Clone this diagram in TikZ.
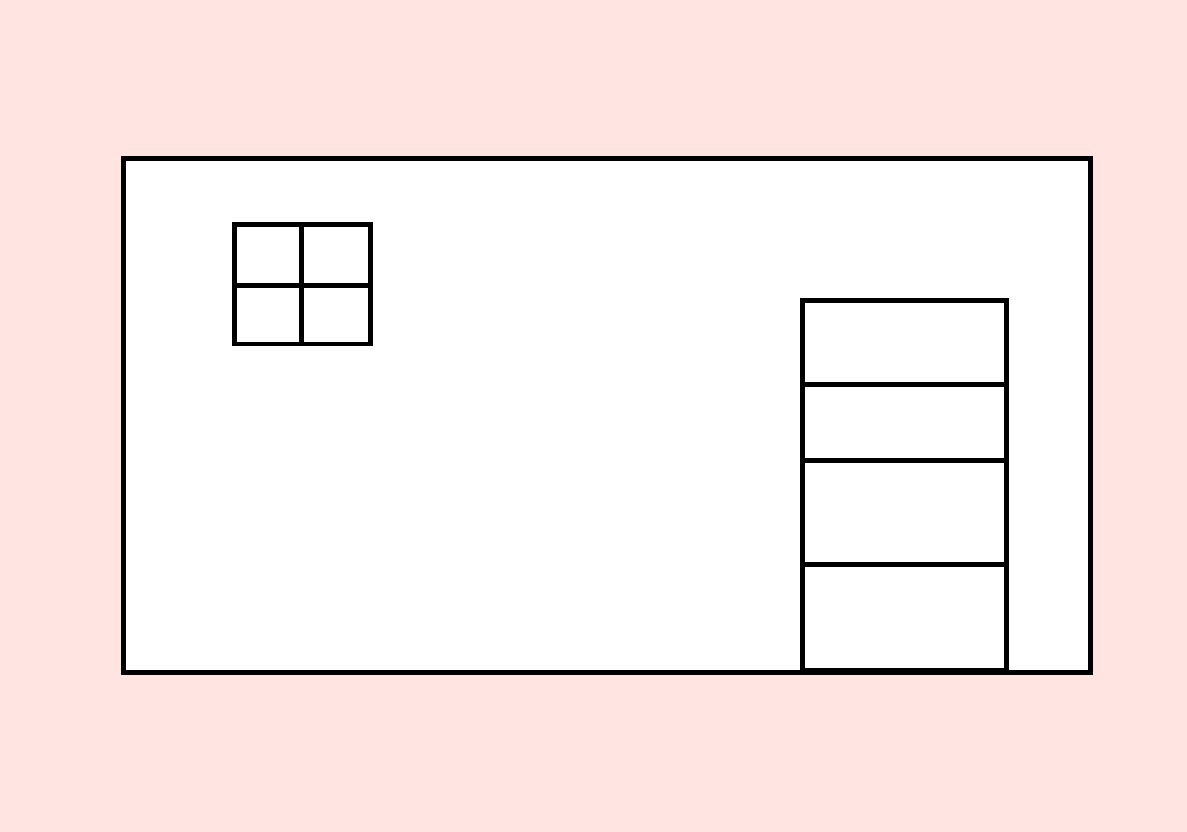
\documentclass[tikz,border=0pt]{standalone}
\definecolor{bgpink}{HTML}{FFE4E1}
\tikzset{wall/.style={draw=black, line width=4.5pt, fill=white},
         part/.style={draw=black, line width=4.5pt}}
\begin{document}
\begin{tikzpicture}[x=1pt,y=-1pt]
\fill[bgpink] (0,0) rectangle (1187,832);
\useasboundingbox (0,0) rectangle (1187,832);
% house wall
\draw[wall] (123.3,158.3) rectangle (1090.3,672.3);
% window
\draw[part] (234.5,224.3) rectangle (370.5,344);
\draw[part] (301.5,224.3) -- (301.5,344);
\draw[part] (234.5,285.3) -- (370.5,285.3);
% door
\draw[part] (802.7,300.7) rectangle (1006.7,670.5);
\draw[part] (802.7,384.3) -- (1006.7,384.3);
\draw[part] (802.7,460.3) -- (1006.7,460.3);
\draw[part] (802.7,564.3) -- (1006.7,564.3);
\end{tikzpicture}
\end{document}
